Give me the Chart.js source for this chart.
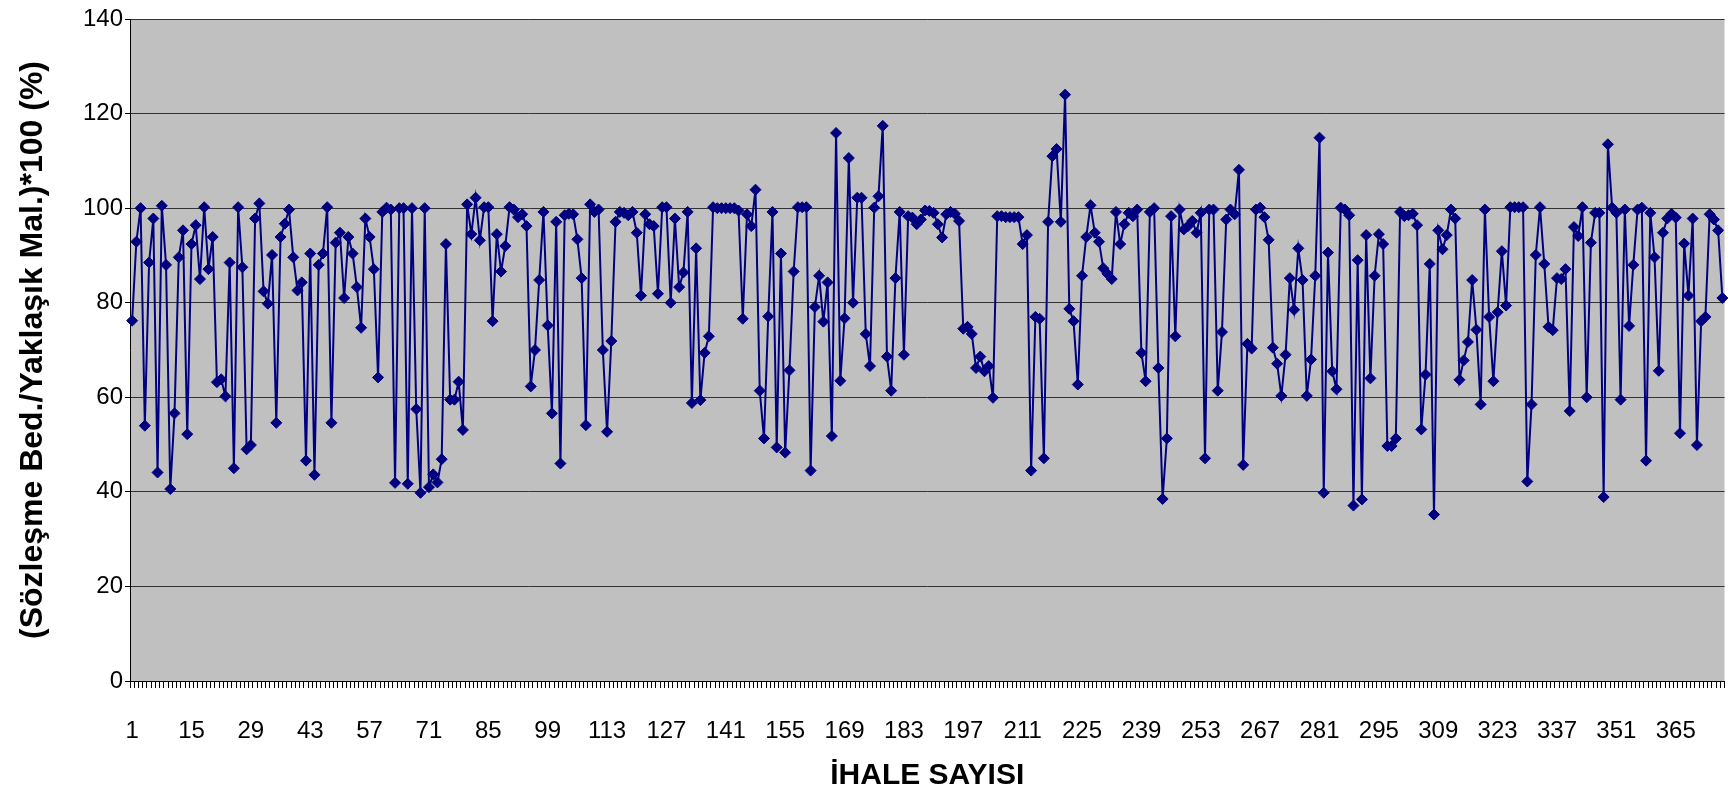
<!DOCTYPE html>
<html>
<head>
<meta charset="utf-8">
<script src="https://cdn.jsdelivr.net/npm/chart.js@4.4.1/dist/chart.umd.min.js"></script>
<style>
html,body{margin:0;padding:0;background:#ffffff;}
#wrap{width:1731px;height:795px;position:relative;}
</style>
</head>
<body>
<div id="wrap"><canvas id="c" width="1731" height="795"></canvas></div>
<script>
// Sözleşme Bedeli / Yaklaşık Maliyet * 100 (%) for each tender (ihale)
const ratioPart1 = [
  76.2, 92.9, 100, 54, 88.5, 97.8, 44.1, 100.5, 88, 40.6,
  56.6, 89.6, 95.3, 52.2, 92.4, 96.4, 85, 100.2, 87.1, 93.9,
  63.2, 63.8, 60.2, 88.5, 45, 100.2, 87.5, 49, 49.9, 97.8,
  101, 82.4, 79.8, 90.1, 54.6, 93.9, 96.7, 99.7, 89.6, 82.6,
  84.3, 46.6, 90.4, 43.6, 88, 90.4, 100.2, 54.6, 92.7, 94.8
];
const ratioPart2 = [
  81, 93.9, 90.4, 83.3, 74.7, 97.8, 93.9, 87.1, 64.2, 99.2,
  100.1, 99.7, 41.9, 100, 100, 41.7, 100, 57.5, 39.8, 100,
  41, 43.7, 42, 46.9, 92.4, 59.5, 59.5, 63.3, 53.1, 100.8,
  94.5, 102.2, 93.2, 100.2, 100.2, 76.1, 94.5, 86.6, 92, 100.2,
  99.7, 98.1, 98.7, 96.2, 62.3, 70, 84.8, 99.2, 75.2, 56.6
];
const ratioPart3 = [
  97.1, 46, 98.5, 98.8, 98.7, 93.4, 85.2, 54.1, 100.8, 99.2,
  99.7, 70, 52.7, 71.9, 97.1, 99.2, 99, 98.5, 99.2, 94.8,
  81.5, 98.7, 96.6, 96.2, 81.9, 100.2, 100.2, 80, 97.8, 83.3, 86.4,
  99.2, 58.8, 91.5, 59.4, 69.4, 72.9, 100.2, 100, 100, 100,
  100, 100, 99.5, 76.6, 98.7, 96.2, 103.9, 61.4, 51.3, 77.1
];
const ratioPart4 = [
  99.2, 49.4, 90.4, 48.3, 65.7, 86.6, 100.2, 100.2, 100.2, 44.5,
  79.1, 85.7, 76, 84.3, 51.8, 115.9, 63.5, 76.7, 110.6, 80,
  102.2, 102.2, 73.4, 66.6, 100.1, 102.5, 117.4, 68.6, 61.4, 85.2,
  99.2, 69, 98.3, 98, 96.6, 97.6, 99.5, 99.4, 99, 96.6,
  93.8, 98.7, 99.2, 98.8, 97.3, 74.5, 74.9, 73.4, 66.2, 68.6
];
const ratioPart5 = [
  65.5, 66.6, 59.9, 98.3, 98.3, 98.1, 98.1, 98.1, 98.1, 92.4,
  94.3, 44.5, 77, 76.6, 47.1, 97.1, 111, 112.5, 97.1, 124,
  78.7, 76.1, 62.7, 85.7, 93.9, 100.6, 94.8, 92.9, 87.3, 86.1,
  85, 99.2, 92.4, 96.6, 99, 98.3, 99.7, 69.4, 63.4, 99.2,
  100, 66.2, 38.5, 51.3, 98.3, 72.9, 99.7, 95.5, 96.2, 97.3
];
const ratioPart6 = [
  94.8, 99, 47.1, 99.7, 99.7, 61.4, 73.8, 97.6, 99.7, 98.7,
  108.1, 45.7, 71.3, 70.3, 99.7, 100.1, 98.1, 93.3, 70.5, 67.1,
  60.3, 69, 85.2, 78.5, 91.5, 84.8, 60.3, 68, 85.7, 114.9,
  39.8, 90.6, 65.5, 61.7, 100.1, 99.7, 98.5, 37.1, 89, 38.4,
  94.3, 64, 85.7, 94.5, 92.4, 49.7, 49.7, 51.3, 99.2, 98.3
];
const ratioPart7 = [
  98.5, 98.8, 96.4, 53.2, 64.8, 88.2, 35.2, 95.3, 91.3, 94.3,
  99.7, 97.8, 63.7, 67.8, 71.7, 84.8, 74.3, 58.5, 99.7, 77,
  63.4, 78, 90.9, 79.4, 100.2, 100.2, 100.2, 100.2, 42.2,
  58.5, 90.1, 100.2, 88.2, 74.9, 74.2, 85.2, 85, 87.1, 57.1,
  96, 94.1, 100.2, 60, 92.7, 99, 99, 38.9, 113.5, 100.1
];
const ratioPart8 = [
  99, 59.5, 99.7, 75.1, 88, 99.7, 100.1, 46.6, 99, 89.6,
  65.6, 94.8, 97.8, 98.8, 98, 52.4, 92.5, 81.5, 97.8, 49.9,
  76.1, 77, 98.7, 97.6, 95.3, 81
];

const values = [].concat(ratioPart1, ratioPart2, ratioPart3, ratioPart4,
                         ratioPart5, ratioPart6, ratioPart7, ratioPart8);
// category = tender number 1..N
const categories = values.map((_, i) => String(i + 1));
const xTickLabels = ['1','15','29','43','57','71','85','99','113','127','141','155','169','183',
                     '197','211','225','239','253','267','281','295','309','323','337','351','365'];
const yTickValues = [0, 20, 40, 60, 80, 100, 120, 140];

const FONT = "'Liberation Sans', Arial, sans-serif";

const plotBg = {
  id: 'plotBg',
  beforeDraw(chart) {
    const {ctx, chartArea: a} = chart;
    ctx.save();
    ctx.fillStyle = '#C0C0C0';
    ctx.fillRect(a.left, a.top, a.right - a.left, a.bottom - a.top);
    ctx.restore();
  }
};

new Chart(document.getElementById('c'), {
  type: 'line',
  data: {
    labels: categories,
    datasets: [{
      data: values,
      borderColor: '#000080',
      backgroundColor: '#000080',
      borderWidth: 2,
      pointStyle: 'rectRot',
      pointRadius: 5.5,
      pointBorderWidth: 1,
      pointBackgroundColor: '#000080',
      pointBorderColor: '#000080',
      tension: 0,
      clip: false
    }]
  },
  options: {
    responsive: false,
    animation: false,
    devicePixelRatio: 1,
    layout: { padding: { top: 19, right: 0, bottom: 0, left: 0 } },
    plugins: { legend: { display: false }, tooltip: { enabled: false } },
    scales: {
      x: {
        type: 'category',
        offset: true,
        grid: { offset: true, drawOnChartArea: false, drawTicks: true, tickLength: 7, tickColor: '#000', tickWidth: 1 },
        border: { display: true, color: '#000', width: 1 },
        ticks: {
          autoSkip: false, maxRotation: 0, minRotation: 0, padding: 29,
          color: '#000', font: { family: FONT, size: 24 },
          callback: function(v, i) { const c = categories[i]; return xTickLabels.includes(c) ? c : ''; }
        },
        title: { display: true, text: 'İHALE SAYISI', color: '#000',
                 font: { family: FONT, size: 30, weight: 'bold' }, padding: { top: 0, bottom: 1 } },
        afterFit(scale) { scale.height = 114; scale.paddingLeft = 0; scale.paddingRight = 0; }
      },
      y: {
        min: 0, max: 140,
        afterBuildTicks(scale) { scale.ticks = yTickValues.map(v => ({ value: v })); },
        grid: { color: '#333', lineWidth: 1, drawTicks: true, tickLength: 5, tickColor: '#000' },
        border: { display: true, color: '#000', width: 1 },
        ticks: { color: '#000', padding: 2, font: { family: FONT, size: 24 } },
        title: { display: true, text: '(Sözleşme Bed./Yaklaşık Mal.)*100 (%)', color: '#000',
                 font: { family: FONT, size: 32, weight: 'bold' }, padding: { top: 14, bottom: 0 } },
        afterFit(scale) { scale.width = 130; }
      }
    }
  },
  plugins: [plotBg]
});
</script>
</body>
</html>
